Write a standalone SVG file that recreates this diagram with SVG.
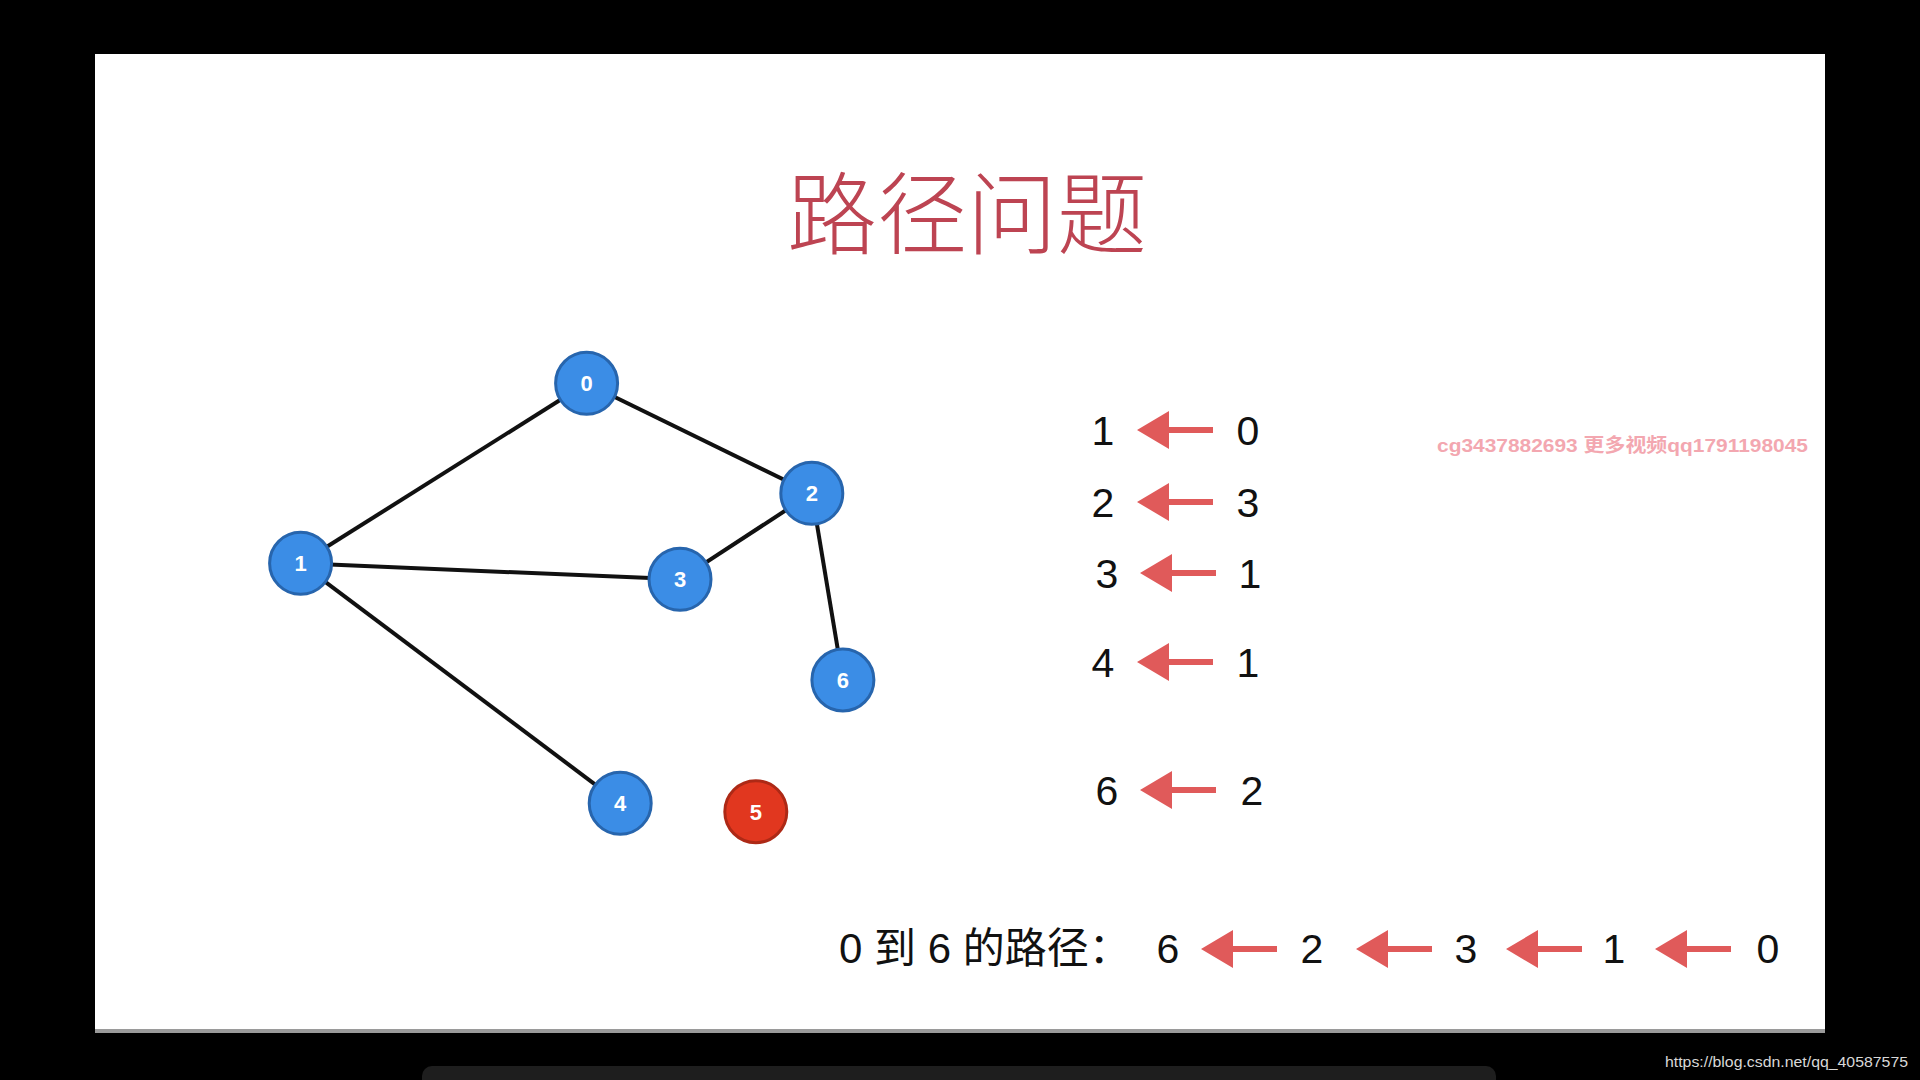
<svg xmlns="http://www.w3.org/2000/svg" width="1920" height="1080" viewBox="0 0 1920 1080">
<style>
.node{fill:#3b8de6;stroke:#2765ad;stroke-width:3}
.node.red{fill:#e1371f;stroke:#ad2916}
.nl{font-family:"Liberation Sans",Arial,sans-serif;font-weight:bold;font-size:22px;fill:#fff;text-anchor:middle}
.edge{stroke:#111;stroke-width:4;fill:none}
.num{font-family:"Liberation Sans",Arial,sans-serif;font-size:41px;fill:#111}
.cn{font-family:"Liberation Sans","Noto Sans CJK SC",sans-serif;font-size:42px;fill:#111}
.arr{fill:#e05a5a}
</style>
<defs>
<path id="arrow" class="arr" d="M0,0 L32,-19 L32,-3 L76,-3 L76,3 L32,3 L32,19 Z"/>
</defs>
<rect x="0" y="0" width="1920" height="1080" fill="#000"/>
<rect x="95" y="54" width="1730" height="979" fill="#fff"/>
<rect x="95" y="1029" width="1730" height="4" fill="#9a9a9a"/>
<rect x="422" y="1066" width="1074" height="30" rx="10" fill="#1e1e1e"/>
<text x="967" y="247" font-family="'Noto Sans CJK SC',sans-serif" font-size="90" font-weight="300" fill="#bd4452" text-anchor="middle">路径问题</text>
<text x="1437" y="452" font-family="'Liberation Sans','Noto Sans CJK SC',sans-serif" font-size="19" font-weight="bold" fill="#f3a7b0" textLength="371" lengthAdjust="spacingAndGlyphs">cg3437882693 更多视频qq1791198045</text>
<g id="connectors">
<line class="edge" x1="586.6" y1="383.3" x2="300.6" y2="563.3"/>
<line class="edge" x1="586.6" y1="383.3" x2="811.8" y2="493.3"/>
<line class="edge" x1="300.6" y1="563.3" x2="680" y2="579.3"/>
<line class="edge" x1="811.8" y1="493.3" x2="680" y2="579.3"/>
<line class="edge" x1="811.8" y1="493.3" x2="842.9" y2="680"/>
<line class="edge" x1="300.6" y1="563.3" x2="620.2" y2="803.3"/>
</g>
<g id="node0"><circle class="node" cx="586.6" cy="383.3" r="31"/><text class="nl" x="586.6" y="391">0</text></g>
<g id="node1"><circle class="node" cx="300.6" cy="563.3" r="31"/><text class="nl" x="300.6" y="571">1</text></g>
<g id="node2"><circle class="node" cx="811.8" cy="493.3" r="31"/><text class="nl" x="811.8" y="501">2</text></g>
<g id="node3"><circle class="node" cx="680" cy="579.3" r="31"/><text class="nl" x="680" y="587">3</text></g>
<g id="node4"><circle class="node" cx="620.2" cy="803.3" r="31"/><text class="nl" x="620.2" y="811">4</text></g>
<g id="node5"><circle class="node red" cx="755.8" cy="811.7" r="31"/><text class="nl" x="755.8" y="819.5">5</text></g>
<g id="node6"><circle class="node" cx="842.9" cy="680" r="31"/><text class="nl" x="842.9" y="688">6</text></g>
<g id="table">
<text class="num" x="1103" y="445" text-anchor="middle">1</text><use href="#arrow" x="1137" y="430"/><text class="num" x="1248" y="445" text-anchor="middle">0</text>
<text class="num" x="1103" y="517" text-anchor="middle">2</text><use href="#arrow" x="1137" y="502"/><text class="num" x="1248" y="517" text-anchor="middle">3</text>
<text class="num" x="1107" y="588" text-anchor="middle">3</text><use href="#arrow" x="1140" y="573"/><text class="num" x="1250" y="588" text-anchor="middle">1</text>
<text class="num" x="1103" y="677" text-anchor="middle">4</text><use href="#arrow" x="1137" y="662"/><text class="num" x="1248" y="677" text-anchor="middle">1</text>
<text class="num" x="1107" y="805" text-anchor="middle">6</text><use href="#arrow" x="1140" y="790"/><text class="num" x="1252" y="805" text-anchor="middle">2</text>
</g>
<g id="path">
<text class="cn" x="839" y="963">0 到 6 的路径：</text>
<text class="num" x="1168" y="963" text-anchor="middle">6</text>
<use href="#arrow" x="1201" y="949"/>
<text class="num" x="1312" y="963" text-anchor="middle">2</text>
<use href="#arrow" x="1356" y="949"/>
<text class="num" x="1466" y="963" text-anchor="middle">3</text>
<use href="#arrow" x="1506" y="949"/>
<text class="num" x="1614" y="963" text-anchor="middle">1</text>
<use href="#arrow" x="1655" y="949"/>
<text class="num" x="1768" y="963" text-anchor="middle">0</text>
</g>
<text x="1665" y="1067" font-family="'Liberation Sans Narrow','Liberation Sans',sans-serif" font-size="15" fill="#d8d8d8" textLength="243" lengthAdjust="spacingAndGlyphs">https://blog.csdn.net/qq_40587575</text>
</svg>
